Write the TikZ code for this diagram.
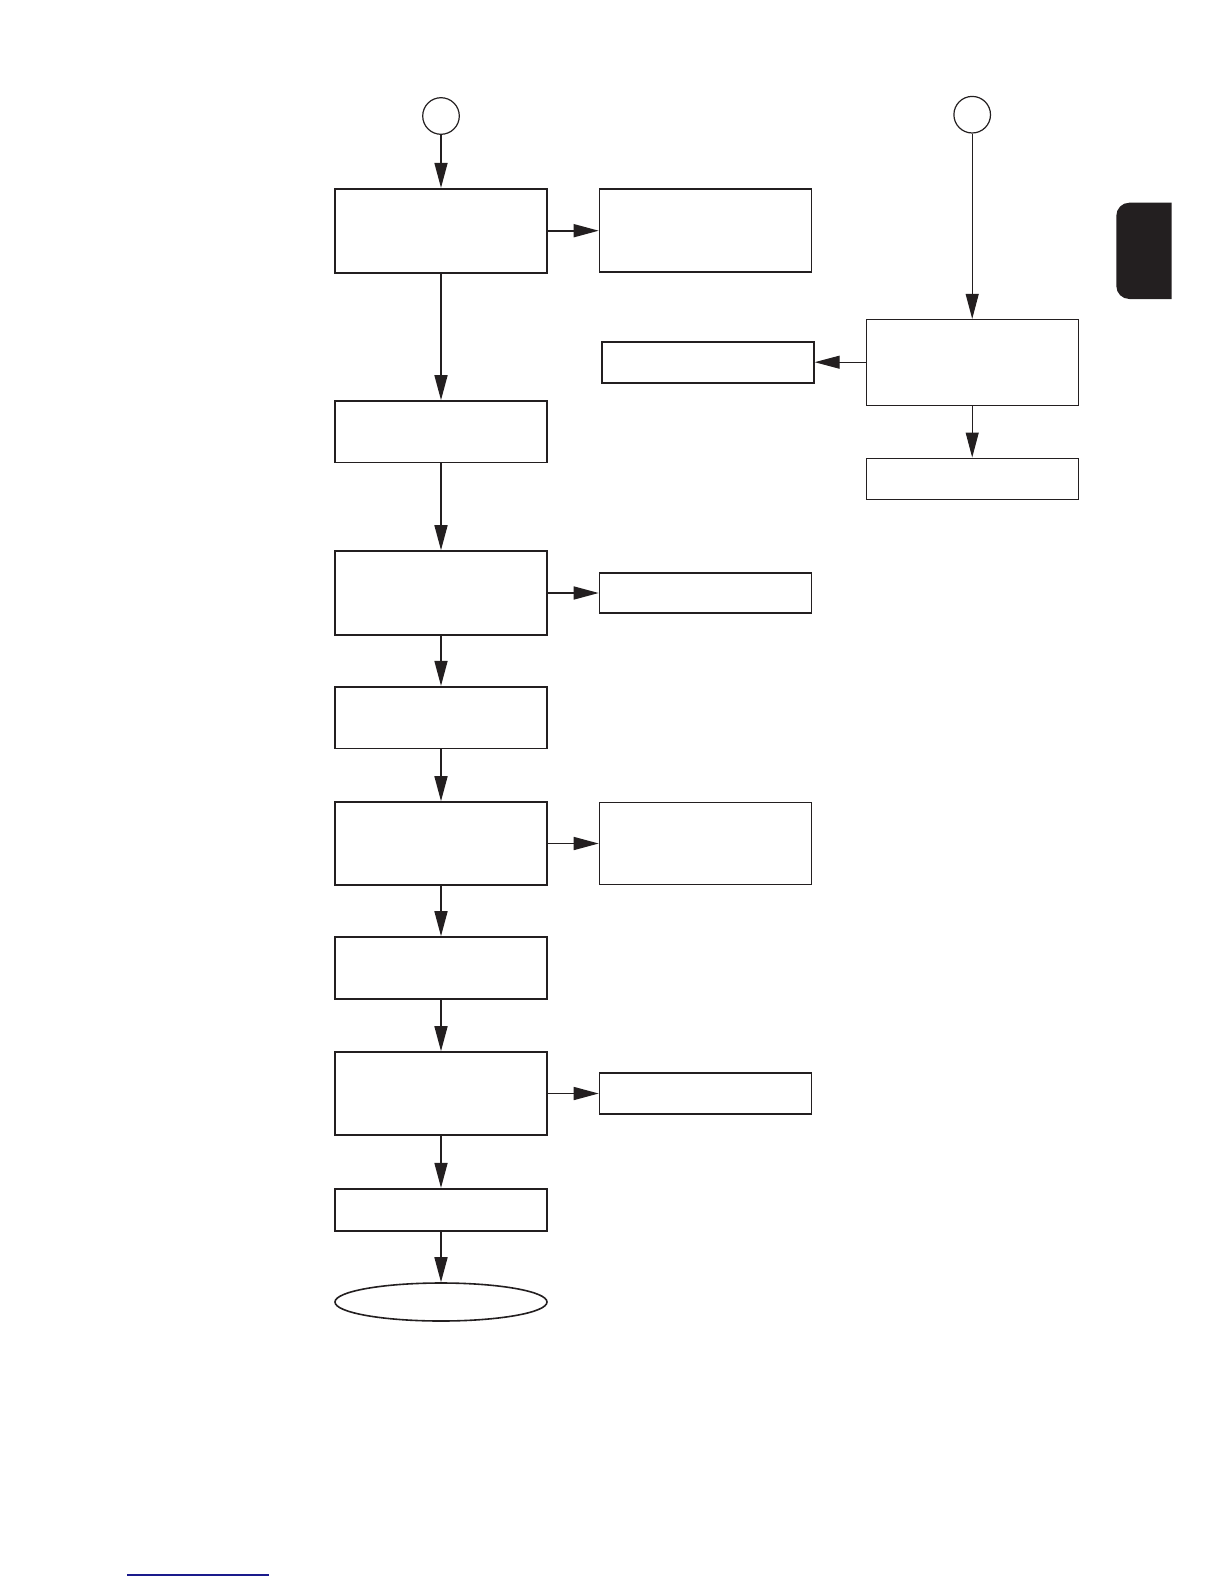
\documentclass[tikz,border=0pt]{standalone}
\usepackage{xcolor}
\usepackage{tikz}
\usetikzlibrary{arrows.meta,shapes.geometric}

\definecolor{ink}{HTML}{231F20}
\definecolor{linkblue}{HTML}{1A1A8C}

\begin{document}
\begin{tikzpicture}[
  x=0.5pt, y=-0.5pt,
  box/.style={draw=ink, line width=0.8pt, minimum width=106pt, inner sep=0pt},
  thinbox/.style={box, line width=0.5pt},
  conn/.style={draw=ink, circle, line width=0.6pt, minimum size=18.3pt, inner sep=0pt},
  arrow/.style={-{Triangle[length=12.5pt, width=6.5pt]}, draw=ink, line width=0.8pt},
  thinarrow/.style={arrow, line width=0.5pt}
]
  \useasboundingbox (0,0) rectangle (1224,1584);

  % left column
  \node[conn] (c1) at (441,116) {};
  \node[box, minimum height=42pt] (b1) at (441,230.7) {};
  \node[box, minimum height=30.75pt] (b2) at (441,431.7) {};
  \node[box, minimum height=42pt] (b3) at (441,593) {};
  \node[box, minimum height=30.8pt] (b4) at (441,717.5) {};
  \node[box, minimum height=41.5pt] (b5) at (441,843.5) {};
  \node[box, minimum height=31pt] (b6) at (441,968) {};
  \node[box, minimum height=41.5pt] (b7) at (441,1093.5) {};
  \node[box, minimum height=21pt] (b8) at (441,1209.7) {};
  \node[draw=ink, ellipse, line width=0.8pt, minimum width=106pt, minimum height=19pt, inner sep=0pt] (end) at (441,1302) {};

  % side boxes
  \node[box, minimum height=41.5pt] (r1) at (705.5,230.7) {};
  \node[box, minimum height=20pt] (r3) at (705.5,593) {};
  \node[box, minimum height=41pt] (r5) at (705.5,843.5) {};
  \node[box, minimum height=20.25pt] (r7) at (705.5,1093.5) {};

  % right column
  \node[conn] (c2) at (972.2,114.7) {};
  \node[thinbox, minimum height=42.8pt] (s1) at (972.2,362.2) {};
  \node[thinbox, minimum height=20.5pt] (s2) at (972.2,478.5) {};
  \node[box, minimum height=20.5pt] (m1) at (707.9,362.2) {};

  \draw[arrow] (c1) -- (b1);
  \draw[arrow] (b1) -- (r1);
  \draw[arrow] (b1) -- (b2);
  \draw[arrow] (b2) -- (b3);
  \draw[arrow] (b3) -- (r3);
  \draw[arrow] (b3) -- (b4);
  \draw[arrow] (b4) -- (b5);
  \draw[arrow] (b5) -- (r5);
  \draw[arrow] (b5) -- (b6);
  \draw[arrow] (b6) -- (b7);
  \draw[arrow] (b7) -- (r7);
  \draw[arrow] (b7) -- (b8);
  \draw[arrow] (b8) -- (end);

  \draw[thinarrow] (c2) -- (s1);
  \draw[thinarrow] (s1) -- (m1);
  \draw[thinarrow] (s1) -- (s2);

  % page tab
  \fill[ink] (1171.7,299) -- (1144,299) [rounded corners=6.5pt] -- (1116.3,299)
    -- (1116.3,202.7) -- (1144,202.7) [sharp corners] -- (1171.7,202.7) -- cycle;

  % footer rule
  \draw[linkblue, line width=0.6pt] (127.3,1575) -- (269,1575);
\end{tikzpicture}
\end{document}
